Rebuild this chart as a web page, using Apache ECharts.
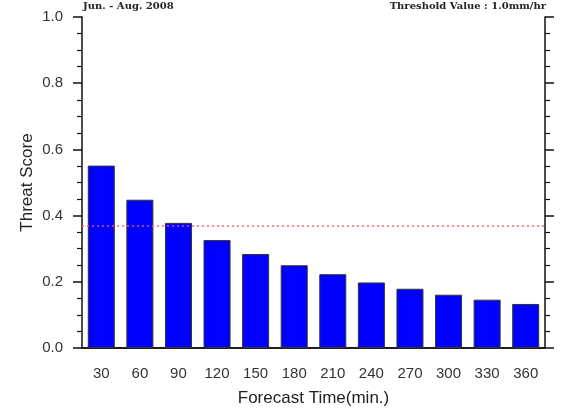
<!DOCTYPE html>
<html>
<head>
<meta charset="utf-8">
<script src="https://cdn.jsdelivr.net/npm/echarts@6/dist/echarts.min.js"></script>
<style>
  html, body { margin: 0; padding: 0; background: #fff; }
  #main { width: 563px; height: 414px; }
</style>
</head>
<body>
<div id="main"></div>
<script>
// forecast lead times (min.) and threat score per lead time
var forecastTimes = ['30', '60', '90', '120', '150', '180', '210', '240', '270', '300', '330', '360'];
var threatScores = [0.551, 0.448, 0.378, 0.326, 0.284, 0.250, 0.223, 0.198, 0.179, 0.161, 0.146, 0.133];
var thresholdLine = 0.366;
var yTicks = [0, 0.2, 0.4, 0.6, 0.8, 1.0];

var axisColor = '#111';
var labelColor = '#333';

var chart = echarts.init(document.getElementById('main'), null, { renderer: 'canvas' });

chart.setOption({
	animation: false,
	backgroundColor: '#fff',
	textStyle: { fontFamily: 'Liberation Sans, Arial, sans-serif' },
	title: [{
		text: 'Jun. - Aug. 2008',
		left: 83, top: 1, padding: 0,
		textStyle: { fontFamily: 'DejaVu Serif', fontSize: 10, fontWeight: 'bold', color: '#222' }
	}, {
		text: 'Threshold Value : 1.0mm/hr',
		right: 17, top: 1, padding: 0,
		textStyle: { fontFamily: 'DejaVu Serif', fontSize: 10, fontWeight: 'bold', color: '#222' }
	}],
	grid: { left: 82, right: 18, top: 17, bottom: 66 },
	xAxis: [{
		type: 'category',
		data: forecastTimes,
		position: 'bottom',
		name: 'Forecast Time(min.)',
		nameLocation: 'middle',
		nameGap: 42,
		nameTextStyle: { fontSize: 17, color: '#222' },
		axisLine: { lineStyle: { color: axisColor, width: 1.5 } },
		axisTick: { alignWithLabel: true, length: 9, lineStyle: { color: axisColor, width: 1.5 } },
		axisLabel: { fontSize: 15, color: labelColor, margin: 18 },
		splitLine: { show: false }
	}, {
		type: 'category',
		data: forecastTimes,
		position: 'top',
		axisLine: { lineStyle: { color: axisColor, width: 1.5 } },
		axisTick: { show: false },
		axisLabel: { show: false },
		splitLine: { show: false }
	}],
	yAxis: [{
		type: 'value',
		min: 0, max: 1, interval: 0.2,
		position: 'left',
		name: 'Threat Score',
		nameLocation: 'middle',
		nameGap: 46,
		nameMoveOverlap: false,
		nameTextStyle: { fontSize: 17, color: '#222' },
		axisLine: { show: true, lineStyle: { color: axisColor, width: 1.5 } },
		axisTick: { show: true, length: 9, lineStyle: { color: axisColor, width: 1.5 } },
		minorTick: { show: true, splitNumber: 4, length: 5, lineStyle: { color: axisColor, width: 1.2 } },
		axisLabel: {
			fontSize: 15, color: labelColor, margin: 19,
			formatter: function (v) { return yTicks.indexOf(+v.toFixed(1)) >= 0 ? v.toFixed(1) : ''; }
		},
		splitLine: { show: false }
	}, {
		type: 'value',
		min: 0, max: 1, interval: 0.2,
		position: 'right',
		axisLine: { show: true, lineStyle: { color: axisColor, width: 1.5 } },
		axisTick: { show: true, length: 9, lineStyle: { color: axisColor, width: 1.5 } },
		minorTick: { show: true, splitNumber: 4, length: 5, lineStyle: { color: axisColor, width: 1.2 } },
		axisLabel: { show: false },
		splitLine: { show: false }
	}],
	series: [{
		name: 'Threat Score',
		type: 'bar',
		data: threatScores,
		barWidth: '70%',
		itemStyle: { color: '#0000ff', borderColor: '#333', borderWidth: 1 },
		markLine: {
			silent: true,
			symbol: ['none', 'none'],
			label: { show: false },
			lineStyle: { color: '#ff5a5a', opacity: 0.9, type: [2, 3], width: 1.5 },
			data: [{ yAxis: thresholdLine }]
		}
	}]
});
</script>
</body>
</html>
